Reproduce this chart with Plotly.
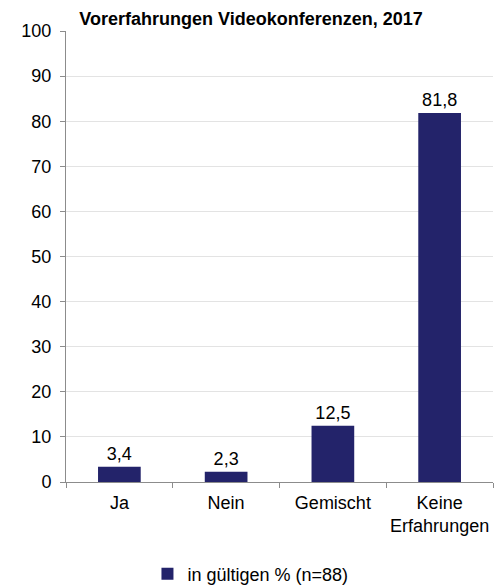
import plotly.graph_objects as go

categories = ["Ja", "Nein", "Gemischt", "Keine<br>Erfahrungen"]
values = [3.4, 2.3, 12.5, 81.8]
series_name = "in gültigen % (n=88)"
title = "Vorerfahrungen Videokonferenzen, 2017"

FONT = "Liberation Sans, Arial, sans-serif"
FS = 18

fig = go.Figure()
fig.add_trace(go.Bar(
    x=categories, y=values, name=series_name,
    marker=dict(color="#23236A", line=dict(width=0)),
    texttemplate="%{y:.1f}", textposition="outside",
    textfont=dict(size=FS, color="#000000", family=FONT),
    cliponaxis=False,
))

fig.update_layout(
    width=502, height=586,
    margin=dict(l=66, r=9, t=31, b=104, autoexpand=False),
    paper_bgcolor="white", plot_bgcolor="white",
    separators=", ",
    font=dict(family=FONT, size=FS, color="#000000"),
    bargap=0.6,
    showlegend=True,
    title=dict(text="<b>" + title + "</b>", font=dict(size=18, family=FONT, color="#000"),
               x=0.5, xref="container", xanchor="center",
               y=1 - 19 / 586, yref="container", yanchor="middle"),
    legend=dict(orientation="h", x=0.432, xanchor="center",
                y=1 - 574 / 586, yref="container", yanchor="middle",
                font=dict(size=FS, family=FONT), itemwidth=30),
    xaxis=dict(showline=True, linecolor="#8c8c8c", linewidth=1,
               ticks="outside", tickson="boundaries", ticklen=5, tickcolor="#8c8c8c",
               tickfont=dict(size=FS, family=FONT), tickangle=0, showgrid=False,
               ticklabelstandoff=4),
    yaxis=dict(range=[0, 100], dtick=10, showline=True, linecolor="#8c8c8c", linewidth=1,
               ticks="outside", ticklen=5, tickcolor="#8c8c8c",
               gridcolor="#e3e3e3", gridwidth=1, zeroline=False,
               tickfont=dict(size=FS, family=FONT), ticklabelstandoff=5),
)

fig.write_html("out.html")
